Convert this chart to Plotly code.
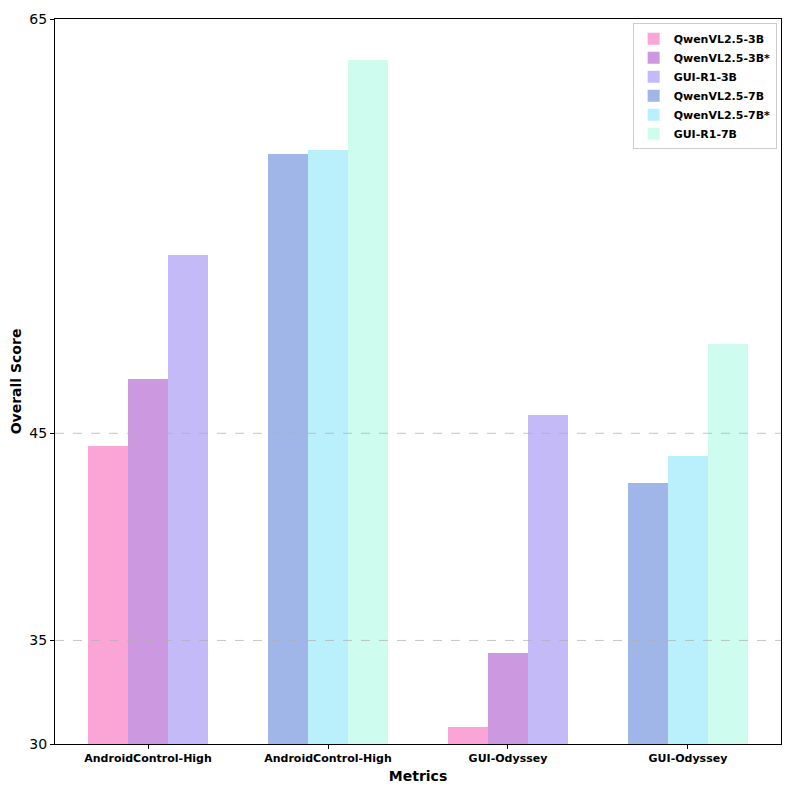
import plotly.graph_objects as go

categories = ["AndroidControl-High", "AndroidControl-High", "GUI-Odyssey", "GUI-Odyssey"]
series_names = ["QwenVL2.5-3B", "QwenVL2.5-3B*", "GUI-R1-3B",
                "QwenVL2.5-7B", "QwenVL2.5-7B*", "GUI-R1-7B"]
# group index in which each series appears
series_groups = [[0, 2], [0, 2], [0, 2], [1, 3], [1, 3], [1, 3]]
series_values = [
    [44.4, 30.8],
    [47.6, 34.4],
    [53.6, 45.9],
    [58.5, 42.6],
    [58.7, 43.9],
    [63.0, 49.3],
]
colors = ["#FAA5D5", "#CC99E0", "#C4BAF8", "#A0B6E8", "#BAF0FC", "#CEFCEE"]
y_ticks = [30, 35, 45, 65]
grid_values = [35, 45]
y_base = 30

bar_w = 0.2222
offsets = [-bar_w, 0, bar_w, -bar_w, 0, bar_w]

fig = go.Figure()
for name, groups, vals, col, off in zip(series_names, series_groups, series_values, colors, offsets):
    fig.add_trace(go.Bar(
        x=[g + off for g in groups],
        y=[v - y_base for v in vals],
        base=y_base,
        name=name,
        width=bar_w,
        marker=dict(color=col, line=dict(width=0)),
    ))

for gv in grid_values:
    fig.add_shape(type="line", xref="paper", yref="y", x0=0, x1=1, y0=gv, y1=gv,
                  line=dict(color="rgba(176,176,176,0.75)", width=1, dash="dash"),
                  layer="above")

fig.update_layout(
    width=793, height=794,
    margin=dict(l=55, r=11, t=14, b=50),
    plot_bgcolor="white", paper_bgcolor="white",
    font=dict(family="DejaVu Sans", color="black"),
    bargap=0,
    showlegend=True,
    legend=dict(
        x=0.994, y=0.994, xanchor="right", yanchor="top",
        bordercolor="#cccccc", borderwidth=1, bgcolor="rgba(255,255,255,0.8)",
        font=dict(size=11, family="DejaVu Sans", weight="bold"),
        tracegroupgap=0, itemwidth=30,
    ),
    xaxis=dict(
        range=[-0.517, 3.517],
        tickmode="array", tickvals=[0, 1, 2, 3], ticktext=categories,
        tickfont=dict(size=11, weight="bold"),
        ticks="outside", ticklen=4, tickcolor="black",
        showline=True, linecolor="black", linewidth=1, mirror=True,
        showgrid=False, zeroline=False,
        title=dict(text="Metrics", font=dict(size=14, weight="bold"), standoff=6),
    ),
    yaxis=dict(
        range=[30, 65],
        tickmode="array", tickvals=y_ticks, ticktext=[str(t) for t in y_ticks],
        tickfont=dict(size=14),
        ticks="outside", ticklen=4, tickcolor="black",
        showline=True, linecolor="black", linewidth=1, mirror=True,
        showgrid=False,
        zeroline=False,
        title=dict(text="Overall Score", font=dict(size=14, weight="bold"), standoff=4),
    ),
)

fig.write_html("out.html", config={"displayModeBar": False},
               post_script="document.body.style.margin='0';")
